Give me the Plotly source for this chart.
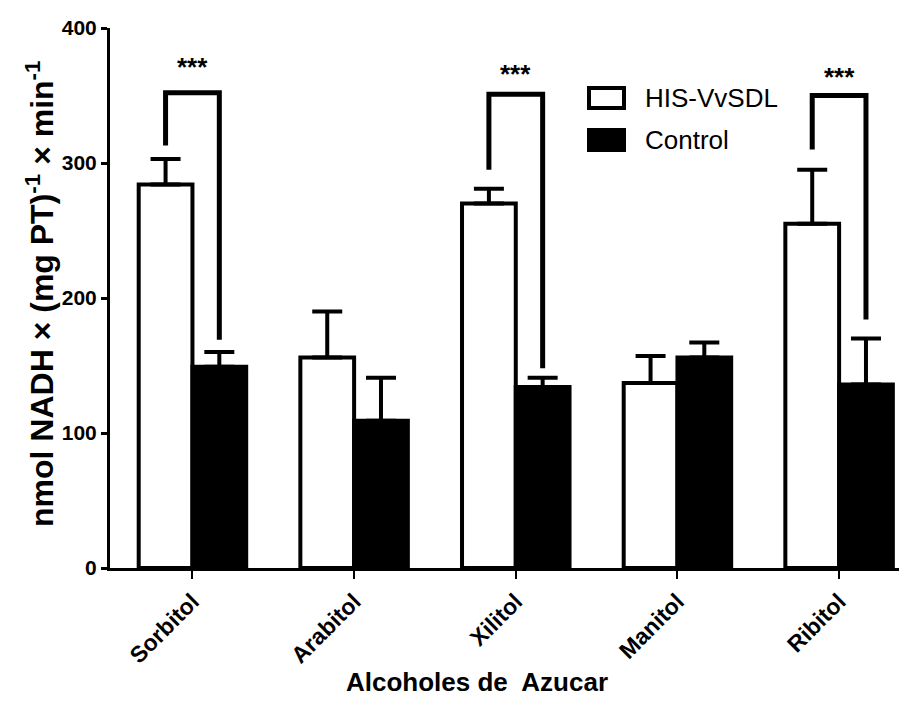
import plotly.graph_objects as go

categories = ["Sorbitol", "Arabitol", "Xilitol", "Manitol", "Ribitol"]
his_vvsdl = [284, 156, 270, 137, 255]
his_err = [19, 34, 11, 20, 40]
control = [149, 109, 134, 156, 136]
control_err = [11, 32, 7, 11, 34]

sig_idx = [0, 2, 4]
sig_top = [352, 351, 350]
sig_left_bottom = [313, 295, 310]
sig_right_bottom = [169, 148, 184]
sig_star_y = [371, 366, 364]
sig_label = ["***", "***", "***"]

y_ticks = [0, 100, 200, 300, 400]

FONT = "Liberation Sans, Arial, Helvetica, sans-serif"
OFF = 8  # page body margin
W, H = 907 - OFF, 709 - OFF
L, R, T, B = 110 - OFF, 0, 28 - OFF, 709 - 568
BARGAP = 0.335
bw = (1 - BARGAP) / 2
xs = list(range(len(categories)))

fig = go.Figure()
fig.add_trace(go.Bar(
    x=xs, y=his_vvsdl, name="HIS-VvSDL",
    marker=dict(color="white", line=dict(color="black", width=4)),
    error_y=dict(type="data", symmetric=False, array=his_err,
                 arrayminus=[0] * len(his_err), thickness=4, width=15, color="black"),
    showlegend=False,
))
fig.add_trace(go.Bar(
    x=xs, y=control, name="Control",
    marker=dict(color="black", line=dict(color="black", width=4)),
    error_y=dict(type="data", symmetric=False, array=control_err,
                 arrayminus=[0] * len(control_err), thickness=4, width=15, color="black"),
    showlegend=False,
))

for i, top, lb, rb, sy, lab in zip(sig_idx, sig_top, sig_left_bottom, sig_right_bottom, sig_star_y, sig_label):
    xl, xr = i - bw / 2, i + bw / 2
    fig.add_trace(go.Scatter(
        x=[xl, xl, xr, xr], y=[lb, top, top, rb], mode="lines",
        line=dict(color="black", width=5), showlegend=False, hoverinfo="skip",
    ))
    fig.add_annotation(x=i, y=sy, text=lab, showarrow=False, xref="x", yref="y",
                       font=dict(family=FONT, size=26, color="black", weight="bold"),
                       yanchor="middle")

pw, ph = W - L - R, H - T - B
def px(xs_):  # screen pixel -> paper x
    return (xs_ - OFF - L) / pw
def py(ys_):  # screen pixel -> paper y
    return (H - B - (ys_ - OFF)) / ph

# legend (manual)
legend_items = [("HIS-VvSDL", "white", 88, 108), ("Control", "black", 130, 150)]
for name, col, y0, y1 in legend_items:
    fig.add_shape(type="rect", xref="paper", yref="paper",
                  x0=px(589), x1=px(624), y0=py(y1), y1=py(y0),
                  fillcolor=col, line=dict(color="black", width=4))
    fig.add_annotation(xref="paper", yref="paper", x=px(643), y=py((y0 + y1) / 2),
                       text=name, showarrow=False, xanchor="left", yanchor="middle",
                       font=dict(family=FONT, size=26, color="black"))

fig.add_annotation(xref="paper", yref="paper", x=px(477), y=py(682),
                   text="Alcoholes de  Azucar", showarrow=False,
                   xanchor="center", yanchor="middle",
                   font=dict(family=FONT, size=26, color="black", weight="bold"))
fig.add_annotation(xref="paper", yref="paper", x=px(40), y=py(294),
                   text="nmol NADH × (mg PT)<sup>-1</sup> × min<sup>-1</sup>",
                   textangle=-90, showarrow=False, xanchor="center", yanchor="middle",
                   font=dict(family=FONT, size=32, color="black", weight="bold"))

fig.update_layout(
    width=W, height=H,
    margin=dict(l=L, r=R, t=T, b=B, pad=0),
    paper_bgcolor="white", plot_bgcolor="white",
    barmode="group", bargap=BARGAP, bargroupgap=0,
    showlegend=False,
    font=dict(family=FONT, color="black"),
    xaxis=dict(
        range=[-0.51, 4.42], tickmode="array", tickvals=xs, ticktext=categories,
        tickangle=-45, ticks="outside", ticklen=8, tickwidth=2, tickcolor="black",
        showline=True, linewidth=3, linecolor="black", showgrid=False, zeroline=False,
        tickfont=dict(family=FONT, size=23, color="black", weight="bold"),
    ),
    yaxis=dict(
        range=[0, 400], tickmode="array", tickvals=y_ticks,
        ticks="outside", ticklen=6, tickwidth=3, tickcolor="black",
        showline=True, linewidth=3, linecolor="black", showgrid=False, zeroline=False,
        tickfont=dict(family=FONT, size=21, color="black", weight="bold"),
    ),
)

fig.write_html("out.html")
